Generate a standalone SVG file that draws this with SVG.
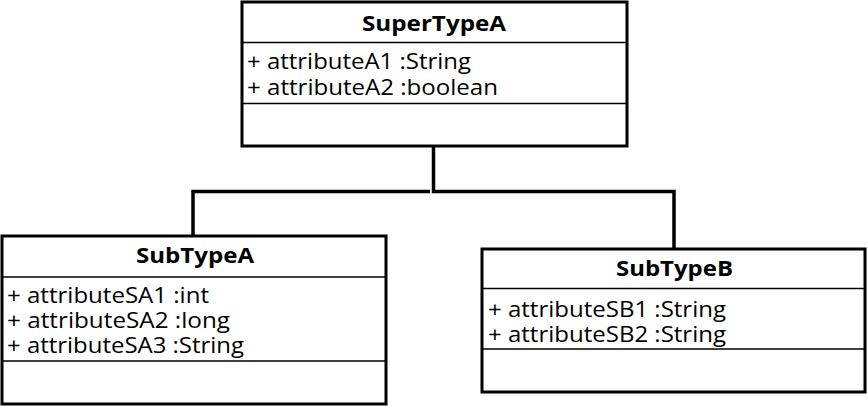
<svg xmlns="http://www.w3.org/2000/svg" width="868" height="406" viewBox="0 0 868 406">
<style>
.box{fill:#fff;stroke:#000;stroke-width:3}
.div{stroke:#000;stroke-width:1.5;fill:none}
.title{font-family:"Open Sans","Noto Sans",sans-serif;font-weight:bold;font-size:22px;fill:#000}
.attr{font-family:"Open Sans","Noto Sans",sans-serif;font-size:21px;fill:#000}
.conn{stroke:#000;stroke-width:3.5;fill:none}
</style>
<rect width="868" height="406" fill="#fff"/>
<g id="connectors">
<path class="conn" d="M433.5,146 V191.5 H674 V249"/>
<path class="conn" d="M193,236 V191.5 H430"/>
</g>
<g id="SuperTypeA">
<rect class="box" x="242" y="2" width="385" height="144"/>
<line class="div" x1="242" y1="42.5" x2="627" y2="42.5"/>
<line class="div" x1="242" y1="103.5" x2="627" y2="103.5"/>
<text class="title" x="362" y="31" textLength="144" lengthAdjust="spacingAndGlyphs">SuperTypeA</text>
<text class="attr" x="247" y="69" textLength="224" lengthAdjust="spacingAndGlyphs">+ attributeA1 :String</text>
<text class="attr" x="247" y="95" textLength="251" lengthAdjust="spacingAndGlyphs">+ attributeA2 :boolean</text>
</g>
<g id="SubTypeA">
<rect class="box" x="2" y="236" width="384" height="168"/>
<line class="div" x1="2" y1="277" x2="386" y2="277"/>
<line class="div" x1="2" y1="361" x2="386" y2="361"/>
<text class="title" x="136" y="263" textLength="118" lengthAdjust="spacingAndGlyphs">SubTypeA</text>
<text class="attr" x="7" y="303" textLength="202" lengthAdjust="spacingAndGlyphs">+ attributeSA1 :int</text>
<text class="attr" x="7" y="328" textLength="223" lengthAdjust="spacingAndGlyphs">+ attributeSA2 :long</text>
<text class="attr" x="7" y="353" textLength="237" lengthAdjust="spacingAndGlyphs">+ attributeSA3 :String</text>
</g>
<g id="SubTypeB">
<rect class="box" x="482" y="249" width="383" height="143"/>
<line class="div" x1="482" y1="288.5" x2="865" y2="288.5"/>
<line class="div" x1="482" y1="349" x2="865" y2="349"/>
<text class="title" x="616" y="276" textLength="117" lengthAdjust="spacingAndGlyphs">SubTypeB</text>
<text class="attr" x="488" y="317" textLength="238" lengthAdjust="spacingAndGlyphs">+ attributeSB1 :String</text>
<text class="attr" x="488" y="342" textLength="238" lengthAdjust="spacingAndGlyphs">+ attributeSB2 :String</text>
</g>
</svg>
